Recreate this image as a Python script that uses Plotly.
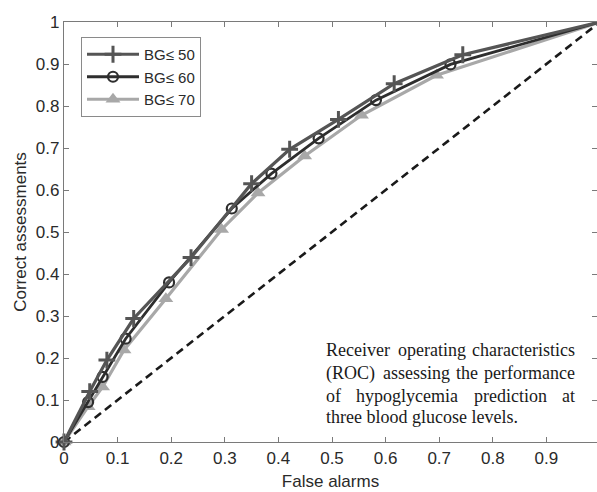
import plotly.graph_objects as go

# ---- data ----
fa50 = [0, 0.048, 0.080, 0.130, 0.237, 0.350, 0.421, 0.512, 0.616, 0.744, 1]
ca50 = [0, 0.120, 0.195, 0.294, 0.439, 0.615, 0.697, 0.768, 0.853, 0.922, 1]

fa60 = [0, 0.045, 0.072, 0.115, 0.196, 0.313, 0.387, 0.475, 0.582, 0.721, 1]
ca60 = [0, 0.095, 0.155, 0.246, 0.380, 0.556, 0.639, 0.723, 0.814, 0.899, 1]

fa70 = [0, 0.045, 0.072, 0.112, 0.190, 0.294, 0.362, 0.449, 0.555, 0.695, 1]
ca70 = [0, 0.084, 0.131, 0.219, 0.341, 0.506, 0.593, 0.681, 0.778, 0.873, 1]

chance_x = [0, 1]
chance_y = [0, 1]

names = ["BG\u2264 50", "BG\u2264 60", "BG\u2264 70"]
xticks = [0, 0.1, 0.2, 0.3, 0.4, 0.5, 0.6, 0.7, 0.8, 0.9, 1]
xticklabels = ["0", "0.1", "0.2", "0.3", "0.4", "0.5", "0.6", "0.7", "0.8", "0.9", "1"]
yticks = [0, 0.1, 0.2, 0.3, 0.4, 0.5, 0.6, 0.7, 0.8, 0.9, 1]
yticklabels = ["0", "0.1", "0.2", "0.3", "0.4", "0.5", "0.6", "0.7", "0.8", "0.9", "1"]

W, H = 597, 492
ML, MR, MT, MB = 64, 0, 22, 50
SANS = "Liberation Sans, Arial"
TXT = "#2a2a2a"

fig = go.Figure()

fig.add_trace(go.Scatter(x=chance_x, y=chance_y, mode="lines", showlegend=False,
                         line=dict(color="#1a1a1a", width=2.6, dash="8px,5px"),
                         hoverinfo="skip"))

fig.add_trace(go.Scatter(x=fa70, y=ca70, mode="lines+markers", name=names[2],
                         line=dict(color="#a8a8a8", width=3.2),
                         marker=dict(symbol="triangle-up", size=13, color="#a8a8a8",
                                     line=dict(width=0)),
                         cliponaxis=False))
fig.add_trace(go.Scatter(x=fa60, y=ca60, mode="lines+markers", name=names[1],
                         line=dict(color="#2e2e2e", width=2.8),
                         marker=dict(symbol="circle-open", size=10, color="#2e2e2e",
                                     line=dict(width=2.2)),
                         cliponaxis=False))
fig.add_trace(go.Scatter(x=fa50, y=ca50, mode="lines+markers", name=names[0],
                         line=dict(color="#555555", width=3.2),
                         marker=dict(symbol="cross-thin-open", size=12, color="#555555",
                                     line=dict(width=3, color="#555555")),
                         cliponaxis=False))

axis_common = dict(showline=True, linecolor="#7a7a7a", linewidth=1.2, mirror="ticks",
                   ticks="inside", ticklen=5, tickcolor="#7a7a7a", tickwidth=1.2,
                   showgrid=False, zeroline=False,
                   tickfont=dict(family=SANS, size=17, color=TXT))

plot_w = W - ML - MR
fig.update_xaxes(range=[0, plot_w / 536.0], tickvals=xticks, ticktext=xticklabels,
                 title=dict(text="False alarms", standoff=8,
                            font=dict(family=SANS, size=17, color=TXT)),
                 **axis_common)
fig.update_yaxes(range=[0, 1], tickvals=yticks, ticktext=yticklabels,
                 title=dict(text="Correct assessments", standoff=4,
                            font=dict(family=SANS, size=17, color=TXT)),
                 **axis_common)

def px(xp):
    return (xp - ML) / plot_w

def py(yp):
    return (H - MB - yp) / (H - MT - MB)

legend_left, legend_top = 81, 37
fig.update_layout(
    width=W, height=H,
    margin=dict(l=ML, r=MR, t=MT, b=MB, pad=0),
    paper_bgcolor="white", plot_bgcolor="white",
    legend=dict(x=px(legend_left), y=py(legend_top), xanchor="left", yanchor="top",
                traceorder="reversed", bgcolor="white", bordercolor="#8a8a8a", borderwidth=1,
                font=dict(family=SANS, size=15, color=TXT),
                itemwidth=52, tracegroupgap=0),
)

# caption text, justified by placing words
caption = [
    (350, [("Receiver", 325, "left"), ("operating", 396.7, "left"), ("characteristics", 576, "right")]),
    (373, [("(ROC)", 325, "left"), ("assessing", 381.7, "left"), ("the", 455, "left"), ("performance", 576, "right")]),
    (396, [("of", 325, "left"), ("hypoglycemia", 355, "left"), ("prediction", 473.3, "left"), ("at", 576, "right")]),
    (417, [("three blood glucose levels.", 325, "left")]),
]
for yline, words in caption:
    for w, xw, anc in words:
        fig.add_annotation(text=w, xref="paper", yref="paper", x=px(xw), y=py(yline),
                           xanchor=anc, yanchor="middle", showarrow=False, borderpad=0,
                           font=dict(family="Liberation Serif, Times New Roman", size=18,
                                     color="#1a1a1a"))

fig.write_html("out.html")
